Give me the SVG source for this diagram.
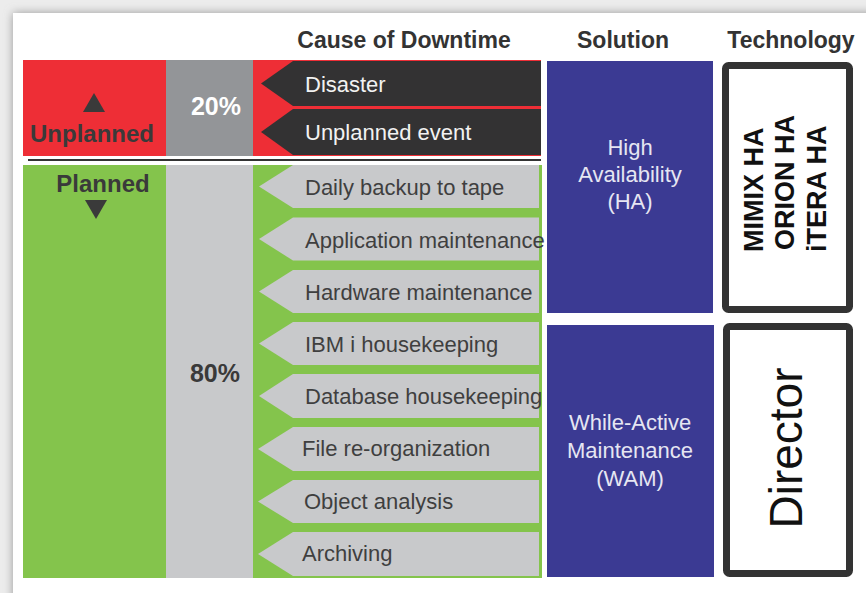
<svg xmlns="http://www.w3.org/2000/svg" width="866" height="593" viewBox="0 0 866 593">
<defs>
<style>
.hdr{font-family:"Liberation Sans",Arial,sans-serif;font-weight:bold;font-size:23px;fill:#333;text-anchor:middle}
.lbl{font-family:"Liberation Sans",Arial,sans-serif;font-weight:bold;font-size:24px;fill:#3a3a3a;text-anchor:middle}
.pct{font-family:"Liberation Sans",Arial,sans-serif;font-weight:bold;font-size:25px;text-anchor:middle}
.item{font-family:"Liberation Sans",Arial,sans-serif;font-size:22px;fill:#3f3f3f}
.itemw{font-family:"Liberation Sans",Arial,sans-serif;font-size:22px;fill:#f2f2f2}
.sol{font-family:"Liberation Sans",Arial,sans-serif;font-size:22px;fill:#e6e6f2;text-anchor:middle}
.tech{font-family:"Liberation Sans",Arial,sans-serif;font-weight:bold;font-size:27px;fill:#111}
.dir{font-family:"Liberation Sans",Arial,sans-serif;font-size:46px;fill:#111;text-anchor:middle}
.darr{fill:#333233}
.garr{fill:#c8c9cb}
.blue{fill:#3b3a93}
.techbox{fill:#fff;stroke:#333;stroke-width:7}
</style>
<filter id="sh" x="-5%" y="-5%" width="110%" height="110%">
<feGaussianBlur stdDeviation="5"/>
</filter>
</defs>
<rect x="0" y="0" width="866" height="593" fill="#ececec"/>
<rect x="13" y="13" width="880" height="600" fill="#999" filter="url(#sh)"/>
<rect x="13" y="13" width="870" height="600" fill="#fff"/>

<g id="headers">
<text class="hdr" x="404" y="48">Cause of Downtime</text>
<text class="hdr" x="623" y="48">Solution</text>
<text class="hdr" x="791" y="48">Technology</text>
</g>

<g id="unplanned">
<rect x="23" y="60" width="143" height="96" fill="#ee2e36"/>
<polygon points="94,93 105,112 83,112" fill="#3a3a3a"/>
<text class="lbl" x="92" y="142">Unplanned</text>
</g>
<g id="pct20">
<rect x="166" y="60" width="87" height="96" fill="#939598"/>
<text class="pct" x="216" y="115" fill="#fff">20%</text>
</g>
<g id="unplanned-causes">
<rect x="253" y="60" width="288" height="96" fill="#ee2e36"/>
<g id="disaster">
<polygon class="darr" points="293,61 541,61 541,106 293,106 261,83.5"/>
<text class="itemw" x="305" y="92">Disaster</text>
</g>
<g id="unplanned-event">
<polygon class="darr" points="293,109 541,109 541,155 293,155 261,132"/>
<text class="itemw" x="305" y="140">Unplanned event</text>
</g>
</g>

<line x1="28" y1="160" x2="541" y2="160" stroke="#333" stroke-width="2"/>

<g id="planned">
<rect x="23" y="165" width="143" height="413" fill="#84c44c"/>
<text class="lbl" x="103" y="192">Planned</text>
<polygon points="85,200 107,200 96,219" fill="#3a3a3a"/>
</g>
<g id="pct80">
<rect x="166" y="165" width="87" height="413" fill="#c8c9cb"/>
<text class="pct" x="215" y="382" fill="#3a3a3a">80%</text>
</g>
<g id="planned-causes">
<rect x="253" y="165" width="289" height="413" fill="#84c44c"/>
<g id="c1"><polygon class="garr" points="293,165 539,165 539,208 293,208 259,186.5"/><text class="item" x="305" y="195">Daily backup to tape</text></g>
<g id="c2"><polygon class="garr" points="293,217.5 539,217.5 539,260.5 293,260.5 259,239"/><text class="item" x="305" y="247.5">Application maintenance</text></g>
<g id="c3"><polygon class="garr" points="293,270 539,270 539,313 293,313 259,291.5"/><text class="item" x="305" y="300">Hardware maintenance</text></g>
<g id="c4"><polygon class="garr" points="293,322 539,322 539,365 293,365 259,343.5"/><text class="item" x="305" y="352">IBM i housekeeping</text></g>
<g id="c5"><polygon class="garr" points="293,374 539,374 539,418 293,418 259,396"/><text class="item" x="305" y="404">Database housekeeping</text></g>
<g id="c6"><polygon class="garr" points="293,427 539,427 539,471 293,471 258,449"/><text class="item" x="302" y="456">File re-organization</text></g>
<g id="c7"><polygon class="garr" points="293,480 539,480 539,523 293,523 258,501.5"/><text class="item" x="304" y="509">Object analysis</text></g>
<g id="c8"><polygon class="garr" points="293,532 539,532 539,576 293,576 258,554"/><text class="item" x="302" y="561">Archiving</text></g>
</g>

<g id="ha">
<rect class="blue" x="547" y="61" width="166" height="252"/>
<text class="sol" x="630" y="155">High</text>
<text class="sol" x="630" y="182">Availability</text>
<text class="sol" x="630" y="209">(HA)</text>
</g>
<g id="wam">
<rect class="blue" x="547" y="325" width="167" height="252"/>
<text class="sol" x="630" y="430">While-Active</text>
<text class="sol" x="630" y="458">Maintenance</text>
<text class="sol" x="630" y="486">(WAM)</text>
</g>

<g id="tech-ha">
<rect class="techbox" x="725.5" y="65.5" width="124" height="244" rx="3"/>
<text class="tech" transform="translate(763,252) rotate(-90)">MIMIX HA</text>
<text class="tech" transform="translate(794,250) rotate(-90)">ORION HA</text>
<text class="tech" transform="translate(826,252) rotate(-90)">iTERA HA</text>
</g>
<g id="tech-director">
<rect class="techbox" x="726.5" y="326.5" width="123" height="247" rx="3"/>
<text class="dir" transform="translate(802,448) rotate(-90)">Director</text>
</g>
</svg>
